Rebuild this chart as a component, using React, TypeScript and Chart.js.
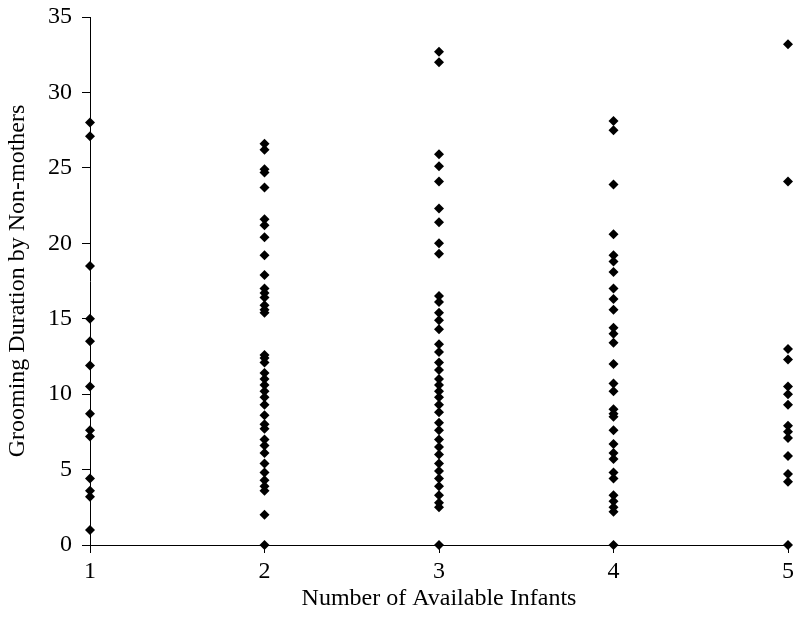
import React, { useEffect, useRef } from "react";
import { Chart, registerables } from "chart.js";

Chart.register(...registerables);

const xCategories = [1, 2, 3, 4, 5];

const infants1 = [28.0, 27.1, 18.5, 15.0, 13.5, 11.9, 10.5, 8.7, 7.6, 7.2, 4.4, 3.6, 3.2, 1.0];
const infants2 = [26.6, 26.2, 24.9, 24.7, 23.7, 21.6, 21.2, 20.4, 19.2, 17.9, 17.0, 16.7, 16.4, 15.9, 15.6, 15.4, 12.6, 12.4, 12.1, 11.4, 11.0, 10.6, 10.2, 9.8, 9.3, 8.6, 8.0, 7.7, 7.0, 6.6, 6.1, 5.4, 4.8, 4.3, 3.9, 3.6, 2.0, 0];
const infants3 = [32.7, 32.0, 25.9, 25.1, 24.1, 22.3, 21.4, 20.0, 19.3, 16.5, 16.1, 15.4, 14.9, 14.3, 13.3, 12.8, 12.1, 11.6, 11.0, 10.6, 10.2, 9.8, 9.3, 8.8, 8.1, 7.6, 7.0, 6.5, 6.0, 5.4, 4.9, 4.4, 3.9, 3.3, 2.8, 2.5, 0];
const infants4 = [28.1, 27.5, 23.9, 20.6, 19.2, 18.8, 18.1, 17.0, 16.3, 15.6, 14.4, 14.0, 13.4, 12.0, 10.7, 10.2, 9.0, 8.7, 8.5, 7.6, 6.7, 6.1, 5.7, 4.8, 4.4, 3.3, 2.9, 2.5, 2.2, 0];
const infants5 = [33.2, 24.1, 13.0, 12.3, 10.5, 10.0, 9.3, 7.9, 7.5, 7.1, 5.9, 4.7, 4.2, 0];

const yTicks = [0, 5, 10, 15, 20, 25, 30, 35];

const columns = [infants1, infants2, infants3, infants4, infants5];

export default function App() {
  const ref = useRef<HTMLCanvasElement>(null);
  useEffect(() => {
    document.body.style.margin = "0";
    const points: { x: number; y: number }[] = [];
    columns.forEach((col, i) => col.forEach((v) => points.push({ x: xCategories[i], y: v })));
    const font = { family: "'Liberation Serif', 'Times New Roman', serif", size: 24 };
    const chart = new Chart(ref.current!, {
      type: "scatter",
      data: {
        datasets: [
          {
            data: points,
            pointStyle: "rectRot",
            pointRadius: 5,
            pointHoverRadius: 5,
            backgroundColor: "#000",
            borderColor: "#000",
            borderWidth: 0,
            clip: false as any,
          },
        ],
      },
      options: {
        animation: false,
        responsive: false,
        layout: { padding: { top: 17, right: 8, left: 0, bottom: 15 } },
        plugins: { legend: { display: false }, tooltip: { enabled: false } },
        scales: {
          x: {
            type: "linear",
            min: 1,
            max: 5,
            afterBuildTicks: (s: any) => {
              s.ticks = xCategories.map((v) => ({ value: v }));
            },
            afterFit: (s: any) => {
              s.height = 72;
              s.paddingLeft = 0;
              s.paddingRight = 0;
            },
            ticks: { color: "#000", font, padding: 4 },
            grid: { display: true, drawOnChartArea: false, drawTicks: true, tickLength: 8, color: "#000" },
            border: { display: true, color: "#000", width: 1 },
            title: { display: true, text: "Number of Available Infants", color: "#000", font, padding: 4 },
          },
          y: {
            type: "linear",
            min: 0,
            max: 35,
            afterBuildTicks: (s: any) => {
              s.ticks = yTicks.map((v) => ({ value: v }));
            },
            afterFit: (s: any) => {
              s.width = 90;
              s.paddingTop = 0;
              s.paddingBottom = 0;
            },
            ticks: { color: "#000", font, padding: 10 },
            grid: { display: true, drawOnChartArea: false, drawTicks: true, tickLength: 8, color: "#000" },
            border: { display: true, color: "#000", width: 1 },
            title: { display: true, text: "Grooming Duration by Non-mothers", color: "#000", font, padding: 3 },
          },
        },
      },
    });
    return () => chart.destroy();
  }, []);
  return (
    <div style={{ width: 796, height: 632, background: "#fff" }}>
      <canvas ref={ref} width={796} height={632} style={{ display: "block" }} />
    </div>
  );
}
